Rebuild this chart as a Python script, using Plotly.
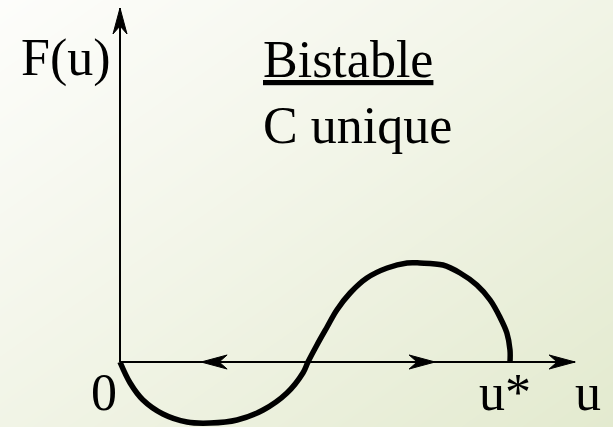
import plotly.graph_objects as go

# F(u) (u* = 1, peak of F ~ 1)
u = [0, 0.026, 0.059, 0.110, 0.172, 0.231, 0.300, 0.367, 0.428, 0.469, 0.482,
     0.505, 0.531, 0.556, 0.590, 0.633, 0.685, 0.736, 0.769, 0.828, 0.872,
     0.915, 0.949, 0.974, 0.992, 1.0, 1.0]
F = [0, -0.21, -0.38, -0.52, -0.60, -0.61, -0.58, -0.48, -0.31, -0.11, 0,
     0.17, 0.35, 0.52, 0.69, 0.84, 0.94, 0.99, 0.99, 0.97, 0.89,
     0.77, 0.62, 0.45, 0.29, 0.12, 0]

# flow direction arrows on the u axis
flow_u = [0.208, 0.808]
flow_dir = ['left', 'right']

u_axis_end = 1.167
F_axis_end = 3.54
u_star = 1.0

x_range = [-120 / 390, 493 / 390]
y_range = [-0.65, 3.62]

font = dict(family='Liberation Serif', size=52, color='black')

fig = go.Figure()

# background gradient, light top-left to green bottom-right
fig.add_trace(go.Heatmap(
    x=x_range, y=y_range,
    z=[[1, 2], [0, 1]],
    zsmooth='best',
    colorscale=[[0, '#fdfdfb'], [0.5, '#f1f4e6'], [1, '#e3eacf']],
    showscale=False, hoverinfo='skip',
))

fig.add_trace(go.Scatter(
    x=u, y=F, mode='lines',
    line=dict(color='black', width=5.5, shape='spline', smoothing=1.0),
    hoverinfo='skip',
))

shapes = [
    dict(type='line', x0=0, y0=0, x1=u_axis_end, y1=0, line=dict(color='black', width=2)),
    dict(type='line', x0=0, y0=0, x1=0, y1=F_axis_end, line=dict(color='black', width=2)),
]

def head(x, y, direction):
    paths = {
        'right': 'M0,0 L-26,7 L-18,0 L-26,-7 Z',
        'left': 'M0,0 L26,7 L18,0 L26,-7 Z',
        'up': 'M0,0 L-7,-26 L0,-18 L7,-26 Z',
    }
    return dict(type='path', xsizemode='pixel', ysizemode='pixel',
                xanchor=x, yanchor=y, path=paths[direction],
                fillcolor='black', line=dict(color='black', width=1))

shapes.append(head(u_axis_end, 0, 'right'))
shapes.append(head(0, F_axis_end, 'up'))
for x, d in zip(flow_u, flow_dir):
    shapes.append(head(x, 0, d))

annotations = [
    dict(x=19 / 613, y=1 - 58 / 427, text='F(u)', xanchor='left'),
    dict(x=261 / 613, y=1 - 60 / 427, text='<u>Bistable</u>', xanchor='left'),
    dict(x=261 / 613, y=1 - 125 / 427, text='C unique', xanchor='left'),
    dict(x=0, y=-0.3, xref='x', yref='y', text='0', xanchor='right', xshift=-1),
    dict(x=u_star, y=-0.3, xref='x', yref='y', text='u*', xanchor='center', xshift=-5),
    dict(x=u_axis_end, y=-0.3, xref='x', yref='y', text='u', xanchor='left', xshift=-2),
]
for a in annotations:
    a.setdefault('xref', 'paper')
    a.setdefault('yref', 'paper')
    a.update(showarrow=False, yanchor='middle', font=font)

fig.update_layout(
    width=613, height=427,
    margin=dict(l=0, r=0, t=0, b=0),
    paper_bgcolor='white', plot_bgcolor='white',
    showlegend=False,
    shapes=shapes, annotations=annotations,
    xaxis=dict(range=x_range, visible=False, fixedrange=True),
    yaxis=dict(range=y_range, visible=False, fixedrange=True),
)

fig.write_html('out.html', config={'displayModeBar': False},
               post_script="document.body.style.margin='0';")
